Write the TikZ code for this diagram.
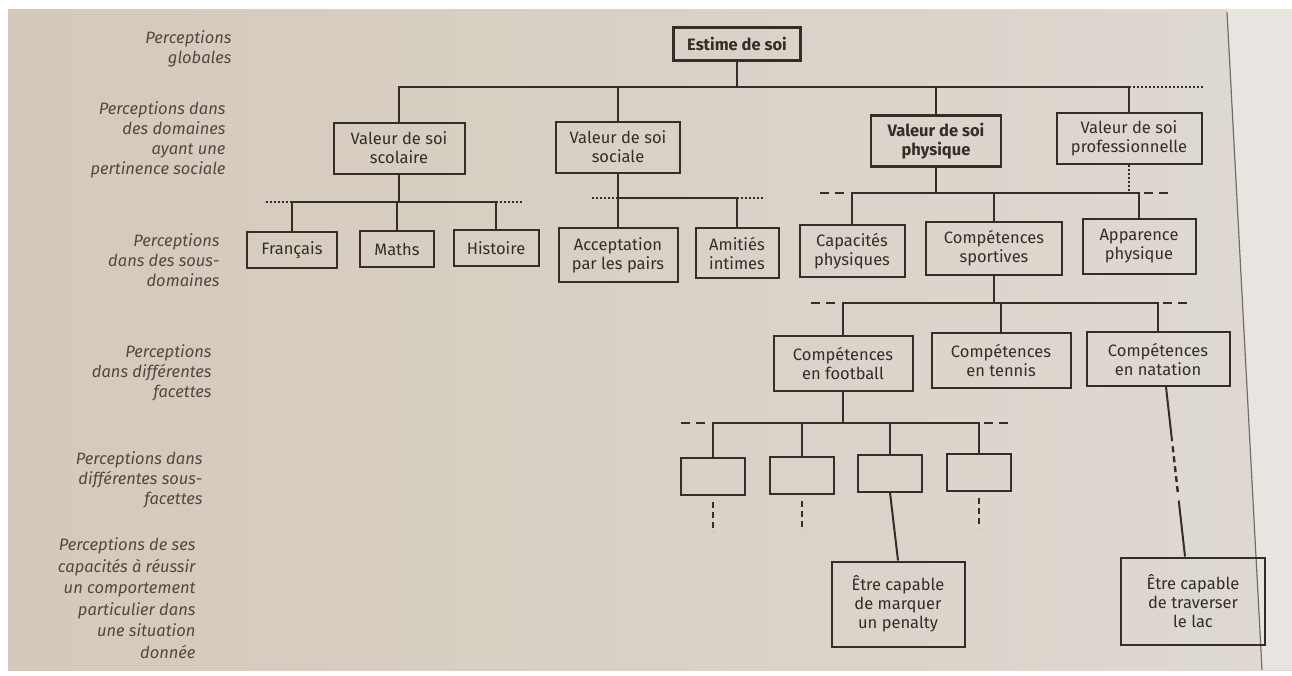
\documentclass[tikz,border=0pt]{standalone}
\usepackage{fontspec}
\setmainfont{Fira Sans}
\usetikzlibrary{positioning, calc}

\definecolor{paper}{RGB}{212,201,186}
\definecolor{paperlight}{RGB}{222,217,210}
\definecolor{ink}{RGB}{52,45,40}
\definecolor{labelink}{RGB}{82,72,64}

\tikzset{
  box/.style={draw=ink, line width=2pt, align=center, text=ink, inner sep=0pt,
    font=\fontsize{16.5}{19}\selectfont},
  bigbox/.style={box, line width=2.8pt, font=\fontsize{16.5}{19}\selectfont\bfseries},
  link/.style={draw=ink, line width=2pt},
  dots/.style={draw=ink, line width=1.2pt, dash pattern=on 2pt off 2pt},
  twodash/.style={draw=ink, line width=2pt, dash pattern=on 9pt off 6pt},
  stub/.style={draw=ink, line width=2.4pt, dash pattern=on 6pt off 4pt},
  level/.style={anchor=east, align=right, text=labelink,
    font=\fontsize{16.5}{20}\selectfont\itshape},
}

\begin{document}
\begin{tikzpicture}[x=1pt, y=-1pt]
    \useasboundingbox (0,0) rectangle (1292,675);

    % Page of the book
    \fill[white] (0,0) rectangle (1292,675);
    \shade[left color=paper, right color=paperlight] (8,9) rectangle (1292,670);
    \fill[paperlight!70!white] (1227,9) -- (1292,9) -- (1292,670) -- (1261,670) -- cycle;
    \draw[ink!70, line width=1.2pt] (1227,12) -- (1262,670);

    % Levels on the left
    \node[level] (lglob) at (235,49) {Perceptions\\globales};
    \node[level] (ldom) at (229,140) {Perceptions dans\\des domaines\\ayant une\\pertinence sociale};
    \node[level] (lsous) at (223,260) {Perceptions\\dans des sous-\\domaines};
    \node[level] (lfac) at (215,373) {Perceptions\\dans différentes\\facettes};
    \node[level] (lsfac) at (206,480) {Perceptions dans\\différentes sous-\\facettes};
    \node[level, font=\fontsize{16.5}{21.5}\selectfont\itshape] (lcomp) at (199,598)
      {Perceptions de ses\\capacités à réussir\\un comportement\\particulier dans\\une situation\\donnée};

    % Global
    \node[bigbox, minimum width=127pt, minimum height=33pt] (estime) at (737,44) {Estime de soi};

    % Domains
    \node[box, minimum width=131pt, minimum height=51pt] (scolaire) at (399,148) {Valeur de soi\\scolaire};
    \node[box, minimum width=124pt, minimum height=51pt] (sociale) at (618,147) {Valeur de soi\\sociale};
    \node[bigbox, minimum width=130pt, minimum height=51pt] (physique) at (936,141) {Valeur de soi\\physique};
    \node[box, minimum width=145pt, minimum height=51pt] (pro) at (1129,138) {Valeur de soi\\professionnelle};

    % Sub-domains
    \node[box, minimum width=90pt, minimum height=36pt] (francais) at (292,250) {Français};
    \node[box, minimum width=74pt, minimum height=36pt] (maths) at (397,249) {Maths};
    \node[box, minimum width=85pt, minimum height=36pt] (histoire) at (496,248) {Histoire};
    \node[box, minimum width=119pt, minimum height=54pt] (accept) at (618,255) {Acceptation\\par les pairs};
    \node[box, minimum width=83pt, minimum height=50pt] (amities) at (737,253) {Amitiés\\intimes};
    \node[box, minimum width=105pt, minimum height=52pt] (capac) at (852,251) {Capacités\\physiques};
    \node[box, minimum width=136pt, minimum height=53pt] (sportives) at (994,248) {Compétences\\sportives};
    \node[box, minimum width=113pt, minimum height=55pt] (apparence) at (1139,246) {Apparence\\physique};

    % Facets
    \node[box, minimum width=139pt, minimum height=55pt] (football) at (843,363) {Compétences\\en football};
    \node[box, minimum width=139pt, minimum height=55pt] (tennis) at (1001,360) {Compétences\\en tennis};
    \node[box, minimum width=143pt, minimum height=54pt] (natation) at (1158,359) {Compétences\\en natation};

    % Sub-facets
    \node[box, minimum width=64pt, minimum height=37pt] (sf1) at (713,476) {};
    \node[box, minimum width=64pt, minimum height=37pt] (sf2) at (802,475) {};
    \node[box, minimum width=64pt, minimum height=37pt] (sf3) at (890,473) {};
    \node[box, minimum width=64pt, minimum height=37pt] (sf4) at (979,472) {};

    % Behaviours
    \node[box, minimum width=133pt, minimum height=85pt] (penalty) at (898,604) {Être capable\\de marquer\\un penalty};
    \node[box, minimum width=144pt, minimum height=87pt] (lac) at (1193,601) {Être capable\\de traverser\\le lac};

    % Estime de soi -> domains
    \coordinate (busA) at (0,87);
    \draw[link] (estime.south) -- (estime.south |- busA);
    \draw[link] (scolaire.north) |- (pro.north |- busA) -- (pro.north);
    \foreach \n in {sociale, physique}
      \draw[link] (\n.north) -- (\n.north |- busA);
    \draw[dots] (pro.north |- busA) -- ++(75,0);

    % Scolaire -> sub-domains
    \coordinate (busS) at (0,202);
    \draw[link] (scolaire.south) -- (scolaire.south |- busS);
    \draw[link] (francais.north) |- (histoire.north |- busS) -- (histoire.north);
    \draw[link] (maths.north) -- (maths.north |- busS);
    \draw[dots] (francais.north |- busS) -- ++(-28,0);
    \draw[dots] (histoire.north |- busS) -- ++(27,0);

    % Sociale -> sub-domains
    \coordinate (busB) at (0,198);
    \draw[link] (sociale.south) -- (accept.north);
    \draw[link] (sociale.south |- busB) -| (amities.north);
    \draw[dots] (sociale.south |- busB) -- ++(-28,0);
    \draw[dots] (amities.north |- busB) -- ++(28,0);

    % Physique -> sub-domains
    \coordinate (busC) at (0,193);
    \draw[link] (physique.south) -- (physique.south |- busC);
    \draw[link] (capac.north) |- (apparence.north |- busC) -- (apparence.north);
    \draw[link] (sportives.north) -- (sportives.north |- busC);
    \draw[dots] (pro.south) -- (pro.south |- busC);
    \draw[twodash] ($(capac.north |- busC)+(-32,0)$) -- ++(24,0);
    \draw[twodash] ($(apparence.north |- busC)+(5,0)$) -- ++(24,0);

    % Sportives -> facets
    \coordinate (busD) at (0,303);
    \draw[link] (sportives.south) -- (sportives.south |- busD);
    \draw[link] (football.north) |- (natation.north |- busD) -- (natation.north);
    \draw[link] (tennis.north) -- (tennis.north |- busD);
    \draw[twodash] ($(football.north |- busD)+(-32,0)$) -- ++(24,0);
    \draw[twodash] ($(natation.north |- busD)+(5,0)$) -- ++(24,0);

    % Football -> sub-facets
    \coordinate (busE) at (0,423);
    \draw[link] (football.south) -- (football.south |- busE);
    \draw[link] (sf1.north) |- (sf4.north |- busE) -- (sf4.north);
    \foreach \n in {sf2, sf3}
      \draw[link] (\n.north) -- (\n.north |- busE);
    \draw[twodash] ($(sf1.north |- busE)+(-32,0)$) -- ++(24,0);
    \draw[twodash] ($(sf4.north |- busE)+(5,0)$) -- ++(24,0);
    \foreach \n in {sf1, sf2, sf4}
      \draw[stub] ($(\n.south)+(0,6)$) -- ++(0,30);
    \draw[link] (sf3.south) -- (penalty.north);

    % Natation -> lac
    \coordinate (natA) at ($(natation.south)+(8,0)$);
    \coordinate (lacA) at ($(lac.north)+(-8,0)$);
    \draw[link] (natA) -- ($(natA)!0.32!(lacA)$);
    \draw[stub] ($(natA)!0.35!(lacA)$) -- ($(natA)!0.64!(lacA)$);
    \draw[link] ($(natA)!0.67!(lacA)$) -- (lacA);
\end{tikzpicture}
\end{document}
